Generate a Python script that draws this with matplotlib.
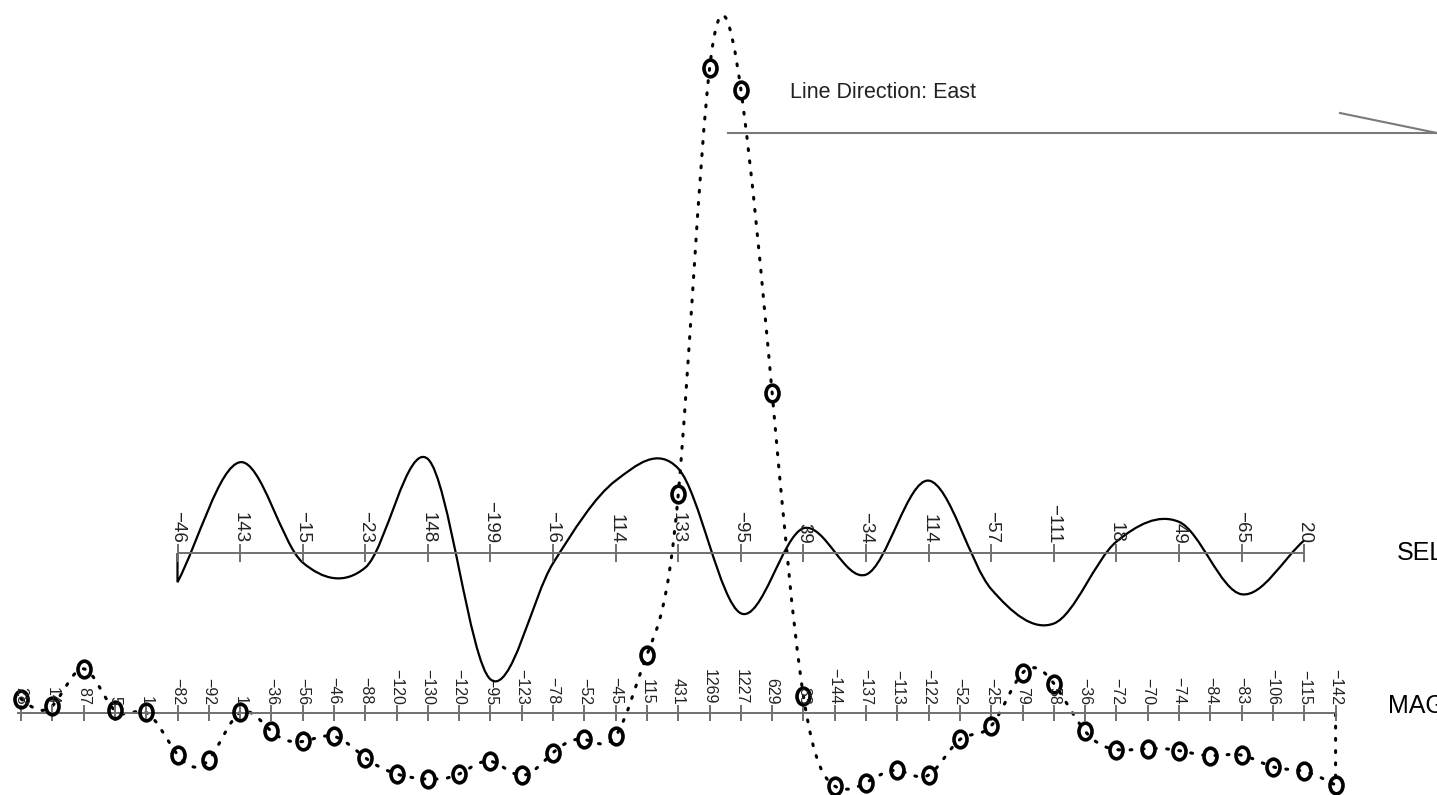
import numpy as np
import matplotlib
matplotlib.use("Agg")
import matplotlib.pyplot as plt
from matplotlib.path import Path
from matplotlib.patches import PathPatch
from matplotlib.markers import MarkerStyle
from matplotlib.transforms import Affine2D
from matplotlib.lines import Line2D

plt.rcParams['font.family'] = ['Liberation Sans', 'DejaVu Sans']

# magnetic readings (one per station) and SEL readings (every 2nd station)
mag_values = [28, 14, 87, 5, 1, -82, -92, 1, -36, -56, -46, -88, -120, -130,
              -120, -95, -123, -78, -52, -45, 115, 431, 1269, 1227, 629, 33,
              -144, -137, -113, -122, -52, -25, 79, 58, -36, -72, -70, -74,
              -84, -83, -106, -115, -142]
sel_values = [-46, 143, -15, -23, 148, -199, -16, 114, 133, -95, 39, -34,
              114, -57, -111, 18, 49, -65, 20]

mag_station = np.arange(len(mag_values))
sel_station = 5 + 2 * np.arange(len(sel_values))


def slopes_natural(y):
    n = len(y)
    A = np.zeros((n, n))
    b = np.zeros(n)
    A[0, 0], A[0, 1], b[0] = 2, 1, 3 * (y[1] - y[0])
    for i in range(1, n - 1):
        A[i, i - 1], A[i, i], A[i, i + 1] = 1, 4, 1
        b[i] = 3 * (y[i + 1] - y[i - 1])
    A[-1, -2], A[-1, -1], b[-1] = 1, 2, 3 * (y[-1] - y[-2])
    return np.linalg.solve(A, b)


def slopes_cardinal(y):
    D = np.zeros(len(y))
    D[1:-1] = (y[2:] - y[:-2]) / 2
    D[0] = y[1] - y[0]
    D[-1] = y[-1] - y[-2]
    return D


def spline_path(x, y, natural=True):
    # smooth curve through the readings, as bezier segments
    x = np.asarray(x, float)
    y = np.asarray(y, float)
    D = slopes_natural(y) if natural else slopes_cardinal(y)
    verts = [(x[0], y[0])]
    codes = [Path.MOVETO]
    for i in range(len(y) - 1):
        dx = x[i + 1] - x[i]
        verts += [(x[i] + dx / 3, y[i] + D[i] / 3),
                  (x[i + 1] - dx / 3, y[i + 1] - D[i + 1] / 3),
                  (x[i + 1], y[i + 1])]
        codes += [Path.CURVE4] * 3
    return verts, codes


def fmt(v):
    return str(v).replace('-', '\u2212')


fig = plt.figure(figsize=(14.37, 7.95), dpi=100)
ax_mag = fig.add_axes([0, 0, 1, 1])
ax_sel = fig.add_axes([0, 0, 1, 1])
for ax in (ax_mag, ax_sel):
    ax.set_xlim(-0.671, 45.24)
    ax.axis('off')
    ax.patch.set_alpha(0)
ax_mag.set_ylim(-161.4, 1403.5)
ax_sel.set_ylim(-381.1, 870.9)

axis_col = '#707070'

# SEL profile
ax_sel.plot([sel_station[0], sel_station[-1]], [0, 0], color=axis_col, lw=1.4)
ax_sel.plot(sel_station, np.zeros(len(sel_station)), ls='none', marker='|',
            ms=13, mew=1.4, color=axis_col)
for x, v in zip(sel_station, sel_values):
    ax_sel.annotate(fmt(v), (x, 0), xytext=(0, 7), textcoords='offset points',
                    rotation=-90, ha='center', va='bottom', fontsize=13.5,
                    color='#222222')
verts, codes = spline_path(sel_station, sel_values, natural=False)
verts = [(sel_station[0], 0)] + verts
codes = [Path.MOVETO, Path.LINETO] + codes[1:]
ax_sel.add_patch(PathPatch(Path(verts, codes), fill=False, lw=1.6,
                           color='black'))

# MAG profile
ax_mag.plot([mag_station[0] - 0.1, mag_station[-1]], [0, 0], color=axis_col, lw=1.4)
ax_mag.plot(mag_station, np.zeros(len(mag_station)), ls='none', marker='|',
            ms=12, mew=1.4, color=axis_col)
for x, v in zip(mag_station, mag_values):
    ax_mag.annotate(fmt(v), (x, 0), xytext=(0, 6), textcoords='offset points',
                    rotation=-90, ha='center', va='bottom', fontsize=11.5,
                    color='#222222')
verts, codes = spline_path(mag_station, mag_values)
verts = verts + [(mag_station[-1], 0)]
codes = codes + [Path.LINETO]
ax_mag.add_patch(PathPatch(Path(verts, codes), fill=False, lw=2.2,
                           ls=(0, (0.6, 3.4)), capstyle='round', color='black'))
oval = MarkerStyle('o', fillstyle='none', transform=Affine2D().scale(0.78, 1.0))
ax_mag.plot(mag_station, mag_values, ls='none', marker=oval, ms=12, mew=2.6,
            color='black')

# direction arrow
fig.text(790 / 1437, 1 - 92 / 795, 'Line Direction: East', ha='left',
         va='center', fontsize=15.5, color='#222222')
fig.add_artist(Line2D([728 / 1437, 1], [1 - 133 / 795, 1 - 133 / 795],
                      transform=fig.transFigure, color='#7a7a7a', lw=1.5))
fig.add_artist(Line2D([1340 / 1437, 1], [1 - 113 / 795, 1 - 133 / 795],
                      transform=fig.transFigure, color='#7a7a7a', lw=1.5))

fig.text(1397 / 1437, 1 - 553 / 795, 'SEL', ha='left', va='center', fontsize=18)
fig.text(1388 / 1437, 1 - 706 / 795, 'MAG', ha='left', va='center', fontsize=18)

fig.savefig('out.png', dpi=100, facecolor='white')
